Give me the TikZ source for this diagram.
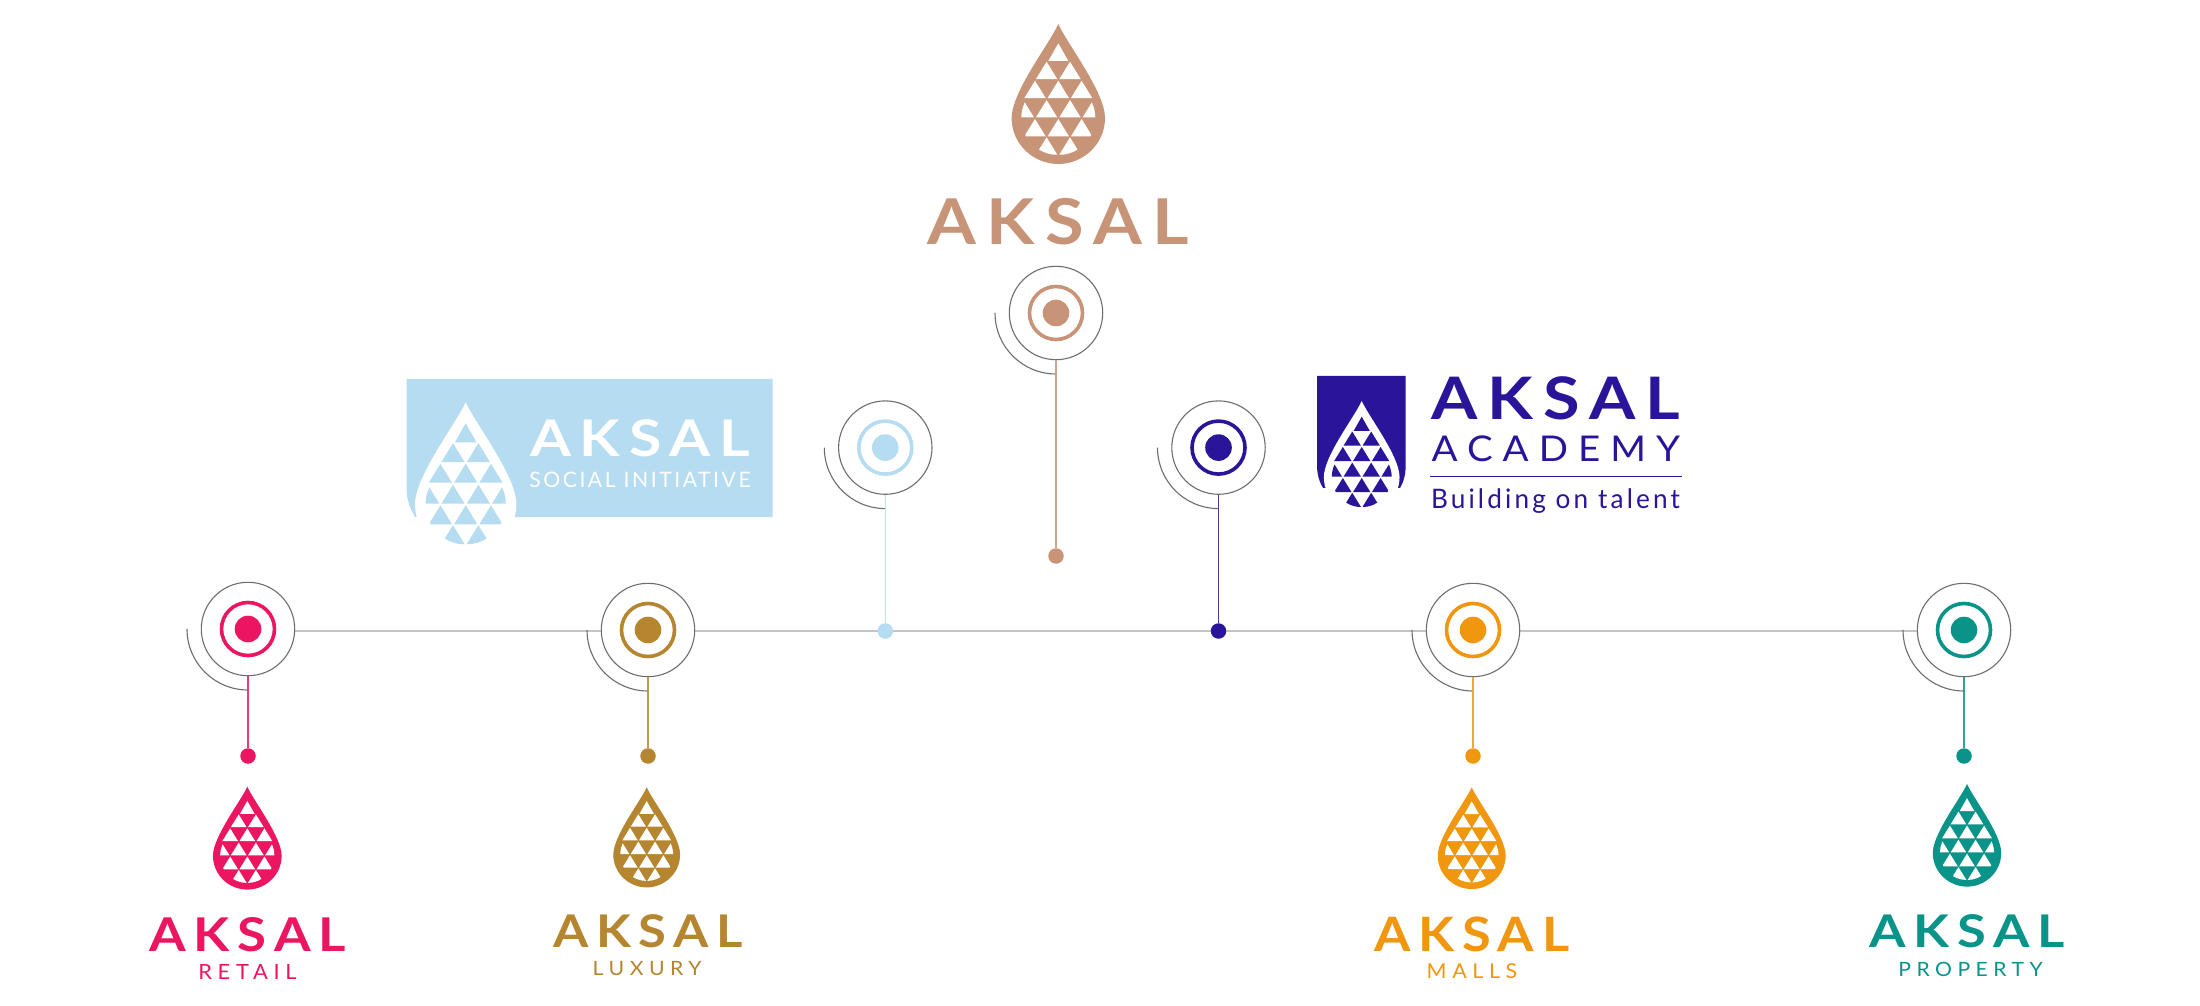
\documentclass[tikz,border=0pt]{standalone}
\usepackage{fontspec}
\usepackage{graphicx}
\setmainfont{Lato}
\newfontfamily\fAksal{Lato}[LetterSpace=15]
\newfontfamily\fSub{Lato}[LetterSpace=26]
\newfontfamily\fTight{Lato}[LetterSpace=12]
\definecolor{cTop}{HTML}{C89478}
\definecolor{cPink}{HTML}{EC1561}
\definecolor{cGold}{HTML}{B5852F}
\definecolor{cOrange}{HTML}{F0960F}
\definecolor{cTeal}{HTML}{0A9389}
\definecolor{cSky}{HTML}{B5DCF1}
\definecolor{cNavy}{HTML}{2A149A}
\definecolor{cRim}{HTML}{6E6E6E}
\definecolor{cAxis}{HTML}{C4C4C4}
\def\px{0.02cm}
\tikzset{
  rimcircle/.style={circle,draw=cRim,fill=white,line width=1.1*\px,minimum size=93.4*\px,inner sep=0pt},
  rimarc/.style={draw=cRim,line width=1.1*\px},
  ringcircle/.style={circle,draw=#1,fill=white,line width=3.6*\px,minimum size=53*\px,inner sep=0pt},
  dotcircle/.style={circle,fill=#1,minimum size=26.6*\px,inner sep=0pt},
  enddot/.style={circle,fill=#1,minimum size=15.5*\px,inner sep=0pt},
  stem/.style={draw=#1!85!white,line width=1.1*\px},
  axis/.style={draw=cAxis,line width=1.3*\px},
  lbltext/.style={inner sep=0pt,outer sep=0pt,text=#1}
}
% triangle of the drop, apex at (#1,#2)
\newcommand{\trg}[2]{\fill (#1,#2) -- ++(-10.7,17.4) -- ++(21.4,0) -- cycle;}
% drop: x, y of tip, scale, drop colour, triangle colour
\newcommand{\drop}[5]{%
  \begin{scope}[shift={(#1,#2)},scale=#3]
    \fill[#4] (0,0) .. controls (9,20) and (46.7,68) .. (46.7,94)
      .. controls (46.7,120) and (25,140) .. (0,140)
      .. controls (-25,140) and (-46.7,120) .. (-46.7,94)
      .. controls (-46.7,68) and (-9,20) .. (0,0) -- cycle;
    \begin{scope}[#5]
      \fill (0,19.3) -- (-10,37) -- (10,37) -- cycle;
      \trg{-11.7}{37.7}\trg{11.7}{37.7}
      \trg{-23.3}{56.7}\trg{0}{56.7}\trg{23.3}{56.7}
      \begin{scope}
        \clip (0,94) circle[radius=37];
        \trg{-35}{76}\trg{-11.7}{76}\trg{11.7}{76}\trg{35}{76}
        \trg{-23.3}{95}\trg{0}{95}\trg{23.3}{95}
        \trg{-11.7}{113.3}\trg{11.7}{113.3}
      \end{scope}
    \end{scope}
  \end{scope}}
% label fitted to a box: name, x0, x1, y0, y1, colour, font, text
\newcommand{\lbl}[8]{%
  \pgfmathsetlengthmacro\lblw{(#3-#2)*0.02cm}%
  \pgfmathsetlengthmacro\lblh{(#5-#4)*0.02cm}%
  \node[lbltext=#6] (#1) at ({(#2+#3)/2},{(#4+#5)/2}) {\resizebox*{\lblw}{\lblh}{\fontsize{40}{44}\selectfont #7#8}};}
% pin: name, x, y, colour, end dot x, end dot y
\newcommand{\pin}[6]{%
  \coordinate (#1arcstart) at (#2-61,#3);
  \draw[rimarc] (#1arcstart) arc[start angle=180,end angle=270,radius=61*\px];
  \node[rimcircle] (#1) at (#2,#3) {};
  \node[ringcircle=#4] (#1ring) at (#2,#3) {};
  \node[dotcircle=#4] (#1dot) at (#2,#3) {};
  \node[enddot=#4] (#1end) at (#5,#6) {};
  \draw[stem=#4] (#1.south) -- (#1end);}
\newcommand{\bA}{\fAksal\bfseries}
\begin{document}
\begin{tikzpicture}[x=0.02cm,y=-0.02cm]
\useasboundingbox (0,0) rectangle (2200,1006);
\fill[white] (0,0) rectangle (2200,1006);

% timeline
\coordinate (axisA) at (248,631);
\coordinate (axisB) at (1964,631);
\draw[axis] (axisA) -- (axisB);

% pins
\pin{retail}{248}{629}{cPink}{248}{756}
\pin{luxury}{648}{630}{cGold}{648}{756}
\pin{malls}{1473}{630}{cOrange}{1473}{756}
\pin{property}{1964}{630}{cTeal}{1964}{756}
\pin{top}{1056}{313}{cTop}{1056}{556}
\pin{social}{885.3}{447.6}{cSky}{885.3}{631}
\pin{academy}{1218.5}{447.6}{cNavy}{1218.5}{631}

% main logo
\drop{1058.3}{24}{1}{cTop}{white}
\lbl{mainname}{927.3}{1189.3}{198.3}{245}{cTop}{\bA}{AKSAL}

% retail
\drop{247.3}{786.7}{.735}{cPink}{white}
\lbl{retailname}{149.3}{346}{917.3}{951.7}{cPink}{\bA}{AKSAL}
\lbl{retailsub}{198.3}{296.7}{964.3}{979.3}{cPink}{\fSub}{RETAIL}

% luxury
\drop{646.7}{787.3}{.715}{cGold}{white}
\lbl{luxuryname}{553.3}{742.7}{915}{948.3}{cGold}{\bA}{AKSAL}
\lbl{luxurysub}{592.7}{701.7}{961.7}{976}{cGold}{\fSub}{LUXURY}

% malls
\drop{1471.7}{787.3}{.727}{cOrange}{white}
\lbl{mallsname}{1374}{1569.3}{916.7}{951.7}{cOrange}{\bA}{AKSAL}
\lbl{mallssub}{1426.7}{1517.3}{963.3}{978.3}{cOrange}{\fSub}{MALLS}

% property
\drop{1967}{784}{.733}{cTeal}{white}
\lbl{propertyname}{1869.3}{2065}{915}{948.3}{cTeal}{\bA}{AKSAL}
\lbl{propertysub}{1898.3}{2042.7}{962.3}{976.7}{cTeal}{\fSub}{PROPERTY}

% social initiative
\fill[cSky] (406.7,379) -- (772.7,379) -- (772.7,517) -- (415,517)
  .. controls (410,508) and (406.7,500) .. (406.7,490) -- cycle;
\drop{465.7}{402.3}{1.085}{white}{cSky}
\lbl{socialname}{530}{750}{420}{457.3}{white}{\bA}{AKSAL}
\lbl{socialsub}{529.3}{750.7}{471.7}{487.3}{white}{\fTight}{SOCIAL INITIATIVE}

% academy
\fill[cNavy] (1317,376) -- (1405.7,376) -- (1405.7,465)
  .. controls (1405.7,475) and (1403.5,482) .. (1400,488) -- (1323,488)
  .. controls (1319.5,482) and (1317,475) .. (1317,465) -- cycle;
\drop{1361.7}{401}{.81}{white}{cNavy}
\lbl{academyname}{1431.7}{1680}{376.7}{420}{cNavy}{\bA}{AKSAL}
\lbl{academysub}{1431.7}{1680}{435.7}{461.7}{cNavy}{\fSub}{ACADEMY}
\coordinate (ruleA) at (1430,476.7);
\coordinate (ruleB) at (1681.7,476.7);
\draw[draw=cNavy,line width=1.5*\px] (ruleA) -- (ruleB);
\lbl{academytag}{1431}{1680}{488.3}{513}{cNavy}{\fTight}{Building on talent}
\end{tikzpicture}
\end{document}
